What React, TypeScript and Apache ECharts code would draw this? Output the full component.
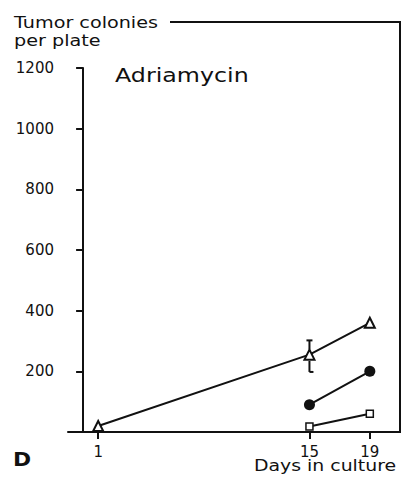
import React, { useEffect, useRef } from "react";
import * as echarts from "echarts";

// Days in culture and colony counts per plate
const days = [1, 15, 19];
const triangleCounts = [20, 255, 360];
const circleDays = [15, 19];
const circleCounts = [90, 200];
const squareDays = [15, 19];
const squareCounts = [18, 60];
// Error bar at day 15 for the triangle series
const errorDay = 15;
const errorLow = 198;
const errorHigh = 302;

const yTicks = [200, 400, 600, 800, 1000, 1200];
const xTicks = [1, 15, 19];

const FONT = "DejaVu Sans";
const INK = "#111";

export default function App() {
  const ref = useRef<HTMLDivElement>(null);

  useEffect(() => {
    if (!ref.current) return;
    const chart = echarts.init(ref.current, null, { renderer: "svg" });

    const pairs = (xs: number[], ys: number[]) => xs.map((x, i) => [x, ys[i]]);

    chart.setOption({
      animation: false,
      backgroundColor: "#fff",
      grid: {
        left: 68,
        right: 3,
        top: 68,
        bottom: 47,
        containLabel: false,
        outerBoundsMode: "none",
      },
      xAxis: {
        type: "value",
        min: -1,
        max: 21,
        splitLine: { show: false },
        axisLine: { show: true, lineStyle: { color: INK, width: 2 } },
        axisTick: {
          show: true,
          customValues: xTicks,
          length: 7,
          inside: false,
          lineStyle: { color: INK, width: 2 },
        },
        axisLabel: {
          customValues: xTicks,
          margin: 12,
          color: INK,
          fontFamily: FONT,
          fontSize: 15,
          formatter: (v: number) => String(v),
        },
      },
      yAxis: {
        type: "value",
        min: 0,
        max: 1200,
        interval: 200,
        splitLine: { show: false },
        axisLine: { show: true, lineStyle: { color: INK, width: 2 } },
        axisTick: {
          show: true,
          customValues: yTicks,
          length: 7,
          lineStyle: { color: INK, width: 2 },
        },
        axisLabel: {
          customValues: yTicks,
          margin: 14,
          color: INK,
          fontFamily: FONT,
          fontSize: 15,
          formatter: (v: number) => String(v),
        },
      },
      graphic: [
        {
          type: "text",
          x: 14,
          y: 14,
          scaleX: 1.2,
          style: {
            text: "Tumor colonies\nper plate",
            font: `16px ${FONT}`,
            fill: INK,
            lineHeight: 18,
          },
        },
        {
          type: "line",
          shape: { x1: 170, y1: 22, x2: 400, y2: 22 },
          style: { stroke: INK, lineWidth: 2 },
        },
        {
          type: "line",
          shape: { x1: 400, y1: 21, x2: 400, y2: 433 },
          style: { stroke: INK, lineWidth: 2 },
        },
        {
          type: "text",
          x: 115,
          y: 66,
          scaleX: 1.25,
          style: { text: "Adriamycin", font: `19px ${FONT}`, fill: INK },
        },
        {
          type: "text",
          x: 254,
          y: 458,
          scaleX: 1.18,
          style: { text: "Days in culture", font: `16px ${FONT}`, fill: INK },
        },
        {
          type: "text",
          x: 13,
          y: 450,
          scaleX: 1.15,
          style: { text: "D", font: `900 19px ${FONT}`, fill: INK },
        },
      ],
      series: [
        {
          type: "line",
          data: pairs(days, triangleCounts),
          symbol: "triangle",
          symbolSize: 10,
          itemStyle: { color: "#fff", borderColor: INK, borderWidth: 2 },
          lineStyle: { color: INK, width: 2 },
        },
        {
          type: "line",
          data: pairs(circleDays, circleCounts),
          symbol: "circle",
          symbolSize: 11,
          itemStyle: { color: INK, borderColor: INK, borderWidth: 0 },
          lineStyle: { color: INK, width: 2 },
        },
        {
          type: "line",
          data: pairs(squareDays, squareCounts),
          symbol: "rect",
          symbolSize: 7,
          itemStyle: { color: "#fff", borderColor: INK, borderWidth: 1.5 },
          lineStyle: { color: INK, width: 2 },
        },
        {
          type: "custom",
          data: [[errorDay, errorLow, errorHigh]],
          renderItem: (params: any, api: any) => {
            const top = api.coord([api.value(0), api.value(2)]);
            const bot = api.coord([api.value(0), api.value(1)]);
            const x = top[0];
            const style = { stroke: INK, lineWidth: 2 };
            return {
              type: "group",
              children: [
                { type: "line", shape: { x1: x, y1: top[1], x2: x, y2: top[1] + 9 }, style },
                { type: "line", shape: { x1: x - 3, y1: top[1], x2: x + 3, y2: top[1] }, style },
                { type: "line", shape: { x1: x, y1: bot[1] - 11, x2: x, y2: bot[1] }, style },
                { type: "line", shape: { x1: x, y1: bot[1], x2: x + 4, y2: bot[1] }, style },
              ],
            };
          },
        },
      ],
    });

    return () => chart.dispose();
  }, []);

  return (
    <div
      ref={ref}
      style={{ position: "absolute", left: 0, top: 0, width: 403, height: 479 }}
    />
  );
}
